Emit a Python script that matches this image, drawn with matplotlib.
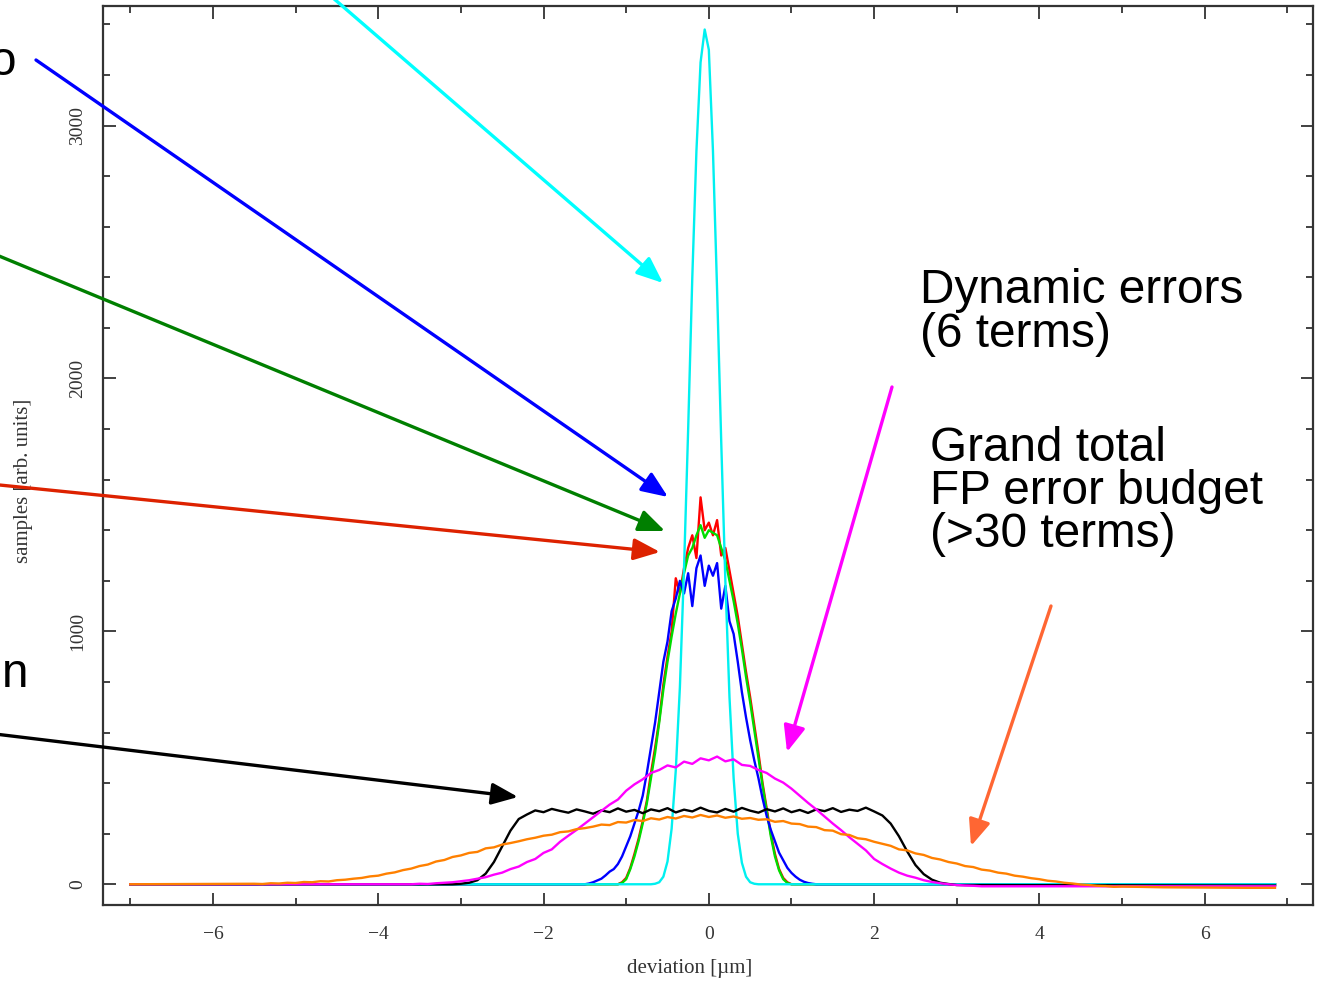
import numpy as np
import matplotlib
matplotlib.use("Agg")
import matplotlib.pyplot as plt
from matplotlib.patches import FancyArrowPatch
from matplotlib.ticker import MultipleLocator

W, H, DPI = 1319, 982, 100

# ---------------- data (histogram counts) ----------------
X_START, X_END = -7.0, 6.85

# black: flat-top distribution, bins of 0.1 from -3.1
black_x0, black_step = -3.1, 0.1
black_y = [0, 2, 6, 16, 42, 88, 150, 212, 258, 276, 292, 285,
           298, 290, 283, 296, 288, 279, 292, 285, 300, 287,
           294, 281, 296, 289, 301, 284, 295, 288, 303, 290,
           284, 298, 287, 302, 291, 283, 297, 288, 300, 285,
           294, 282, 296, 289, 301, 286, 295, 290, 303, 288,
           272, 240, 190, 130, 76, 40, 18, 6, 1, -3]
black_tail = -5

# orange: grand total, bins of 0.1 from -5.5
orange_x0, orange_step = -5.5, 0.1
orange_y = [2, 1, 4, 3, 6, 5, 9, 8, 12, 11,
            16, 18, 22, 25, 31, 34, 42, 47, 56, 62,
            72, 78, 90, 96, 108, 114, 124, 128, 142, 146,
            157, 163, 170, 178, 184, 192, 196, 206, 209, 218,
            222, 228, 236, 234, 246, 244, 254, 250, 261, 256,
            266, 260, 270, 264, 274, 266, 272, 263, 268, 259,
            262, 255, 257, 247, 250, 240, 238, 228, 226, 214,
            212, 198, 195, 182, 178, 168, 160, 152, 138, 134,
            122, 116, 104, 98, 88, 82, 72, 68, 58, 54,
            46, 42, 34, 30, 24, 20, 14, 11, 6, 3,
            -1, -3, -6, -7, -10, -9]
orange_tail_x = [5.5, 6.0, 6.5, X_END]
orange_tail_y = [-12, -13, -14, -14]

# magenta: dynamic errors, bins of 0.1 from -3.6
magenta_x0, magenta_step = -3.6, 0.1
magenta_y = [0, 2, 1, 4, 6, 8, 12, 16, 22, 28,
             38, 46, 60, 70, 88, 100, 124, 138, 168, 192,
             215, 240, 265, 290, 315, 335, 370, 395, 415, 440,
             452, 470, 462, 485, 476, 498, 490, 505, 486, 494,
             472, 468, 452, 440, 418, 402, 378, 350, 322, 296,
             268, 240, 214, 186, 160, 134, 100, 80, 62, 46,
             34, 26, 16, 9, 4, 0, -3, -5, -6, -8, -8]
magenta_tail = -8

# red, green: bins of 0.05 from -1.10
red_x0, red_step = -1.10, 0.05
red_y = [0, 8, 25, 65, 120, 180, 250, 330, 440, 540,
         650, 790, 900, 1000, 1210, 1150, 1250, 1330, 1380, 1290,
         1530, 1400, 1430, 1380, 1440, 1300, 1330, 1240, 1150, 1060,
         950, 840, 740, 630, 520, 400, 300, 200, 120, 60,
         25, 8, 0]
green_x0, green_step = -1.10, 0.05
green_y = [0, 5, 20, 60, 110, 170, 240, 320, 420, 520,
           640, 770, 880, 980, 1070, 1150, 1230, 1300, 1330, 1380,
           1420, 1370, 1400, 1390, 1380, 1330, 1280, 1200, 1120, 1030,
           930, 820, 720, 610, 500, 390, 290, 190, 110, 55,
           20, 5, 0]

# blue: bins of 0.05 from -1.50
blue_x0, blue_step = -1.50, 0.05
blue_y = [0, 3, 8, 15, 22, 35, 50, 60, 80, 110,
          150, 190, 240, 290, 350, 440, 540, 640, 760, 880,
          960, 1080, 1130, 1200, 1150, 1230, 1100, 1250, 1300, 1180,
          1260, 1220, 1270, 1090, 1180, 1040, 990, 880, 760, 660,
          570, 490, 420, 340, 270, 215, 170, 125, 95, 65,
          45, 30, 18, 10, 5, 2, 0]

# cyan: narrow peak, bins of 0.05 from -0.70
cyan_x0, cyan_step = -0.70, 0.05
cyan_y = [0, 2, 8, 30, 90, 220, 450, 780, 1250, 1800,
          2400, 2900, 3250, 3380, 3300, 2900, 2350, 1750, 1200, 740,
          420, 200, 85, 30, 8, 2, 0]

xtick_major = [-6, -4, -2, 0, 2, 4, 6]
ytick_major = [0, 1000, 2000, 3000]


def series(x0, step, vals, tail_x=None, tail_y=None, start_val=0, end_val=0):
    core_x = list(np.round(x0 + step * np.arange(len(vals)), 3))
    xs = [X_START] + core_x
    ys = [start_val] + list(vals)
    if tail_x is not None:
        xs += list(tail_x)
        ys += list(tail_y)
    else:
        xs += [X_END]
        ys += [end_val]
    return xs, ys


plt.rcParams['font.family'] = ['Liberation Serif', 'DejaVu Serif']

fig = plt.figure(figsize=(W / DPI, H / DPI), dpi=DPI)
ax = fig.add_axes([103 / W, 1 - 905 / H, (1313 - 103) / W, (905 - 6) / H])

lw = 1.7
ax.plot(*series(red_x0, red_step, red_y), color='#ff0000', lw=lw)
ax.plot(*series(green_x0, green_step, green_y), color='#00dd00', lw=lw)
ax.plot(*series(blue_x0, blue_step, blue_y), color='#0000ff', lw=lw)
ax.plot(*series(cyan_x0, cyan_step, cyan_y), color='#00f0f0', lw=lw)
ax.plot(*series(black_x0, black_step, black_y, end_val=black_tail), color='#000000', lw=lw)
ax.plot(*series(magenta_x0, magenta_step, magenta_y, end_val=magenta_tail), color='#ff00ff', lw=lw)
ax.plot(*series(orange_x0, orange_step, orange_y, orange_tail_x, orange_tail_y), color='#ff8000', lw=lw)

ax.set_xlim(-7.33, 7.31)
ax.set_ylim(-82, 3473)
ax.set_xticks(xtick_major)
ax.set_yticks(ytick_major)
ax.set_xticklabels([str(v).replace('-', '\u2212') for v in xtick_major])
ax.set_yticklabels([str(v) for v in ytick_major])
ax.xaxis.set_minor_locator(MultipleLocator(1))
ax.yaxis.set_minor_locator(MultipleLocator(200))

ax.tick_params(which='both', direction='in', top=True, right=True,
               color='#333333', width=1.3)
ax.tick_params(which='major', length=9)
ax.tick_params(which='minor', length=5)
ax.tick_params(axis='x', which='major', pad=15, labelsize=14, labelcolor='#333333')
ax.tick_params(axis='y', which='major', pad=12, labelsize=14, labelcolor='#333333',
               labelrotation=90)
for lab in ax.get_yticklabels():
    lab.set_va('center')
for s in ax.spines.values():
    s.set_color('#333333')
    s.set_linewidth(1.6)

ax.set_xlabel('deviation [\u00b5m]', fontsize=15, color='#333333')
ax.xaxis.set_label_coords((690 - 103) / 1210, -(959 - 905) / 899)
ax.set_ylabel('samples [arb. units]', fontsize=15, color='#333333')
ax.yaxis.set_label_coords(-(103 - 33) / 1210, (905 - 481) / 899)


def fx(px):
    return px / W


def fy(py):
    return 1 - py / H


sans = ['Liberation Sans', 'DejaVu Sans']
tsize = 34.4
fig.text(fx(920), fy(303), 'Dynamic errors', fontsize=tsize, family=sans, va='baseline')
fig.text(fx(920), fy(347), '(6 terms)', fontsize=tsize, family=sans, va='baseline')
fig.text(fx(930), fy(461), 'Grand total', fontsize=tsize, family=sans, va='baseline')
fig.text(fx(930), fy(504), 'FP error budget', fontsize=tsize, family=sans, va='baseline')
fig.text(fx(930), fy(547), '(>30 terms)', fontsize=tsize, family=sans, va='baseline')
fig.text(fx(16), fy(75), 'o', fontsize=tsize, family=sans, va='baseline', ha='right')
fig.text(fx(28), fy(687), 'n', fontsize=tsize, family=sans, va='baseline', ha='right')

arrows = [
    ((318, -15), (663, 283), '#00ffff'),
    ((36, 60), (668, 497), '#0000ff'),
    ((-30, 244), (665, 531), '#007f00'),
    ((-30, 482), (660, 552), '#dd2200'),
    ((-30, 731), (518, 797), '#000000'),
    ((892, 387), (787, 752), '#ff00ff'),
    ((1051, 606), (971, 846), '#ff6633'),
]
for (p0, p1, c) in arrows:
    arr = FancyArrowPatch((fx(p0[0]), fy(p0[1])), (fx(p1[0]), fy(p1[1])),
                          transform=fig.transFigure,
                          arrowstyle='-|>,head_length=0.8,head_width=0.33',
                          mutation_scale=20, color=c, lw=2.4,
                          shrinkA=0, shrinkB=0, clip_on=False)
    fig.add_artist(arr)

fig.savefig('out.png', dpi=DPI)
